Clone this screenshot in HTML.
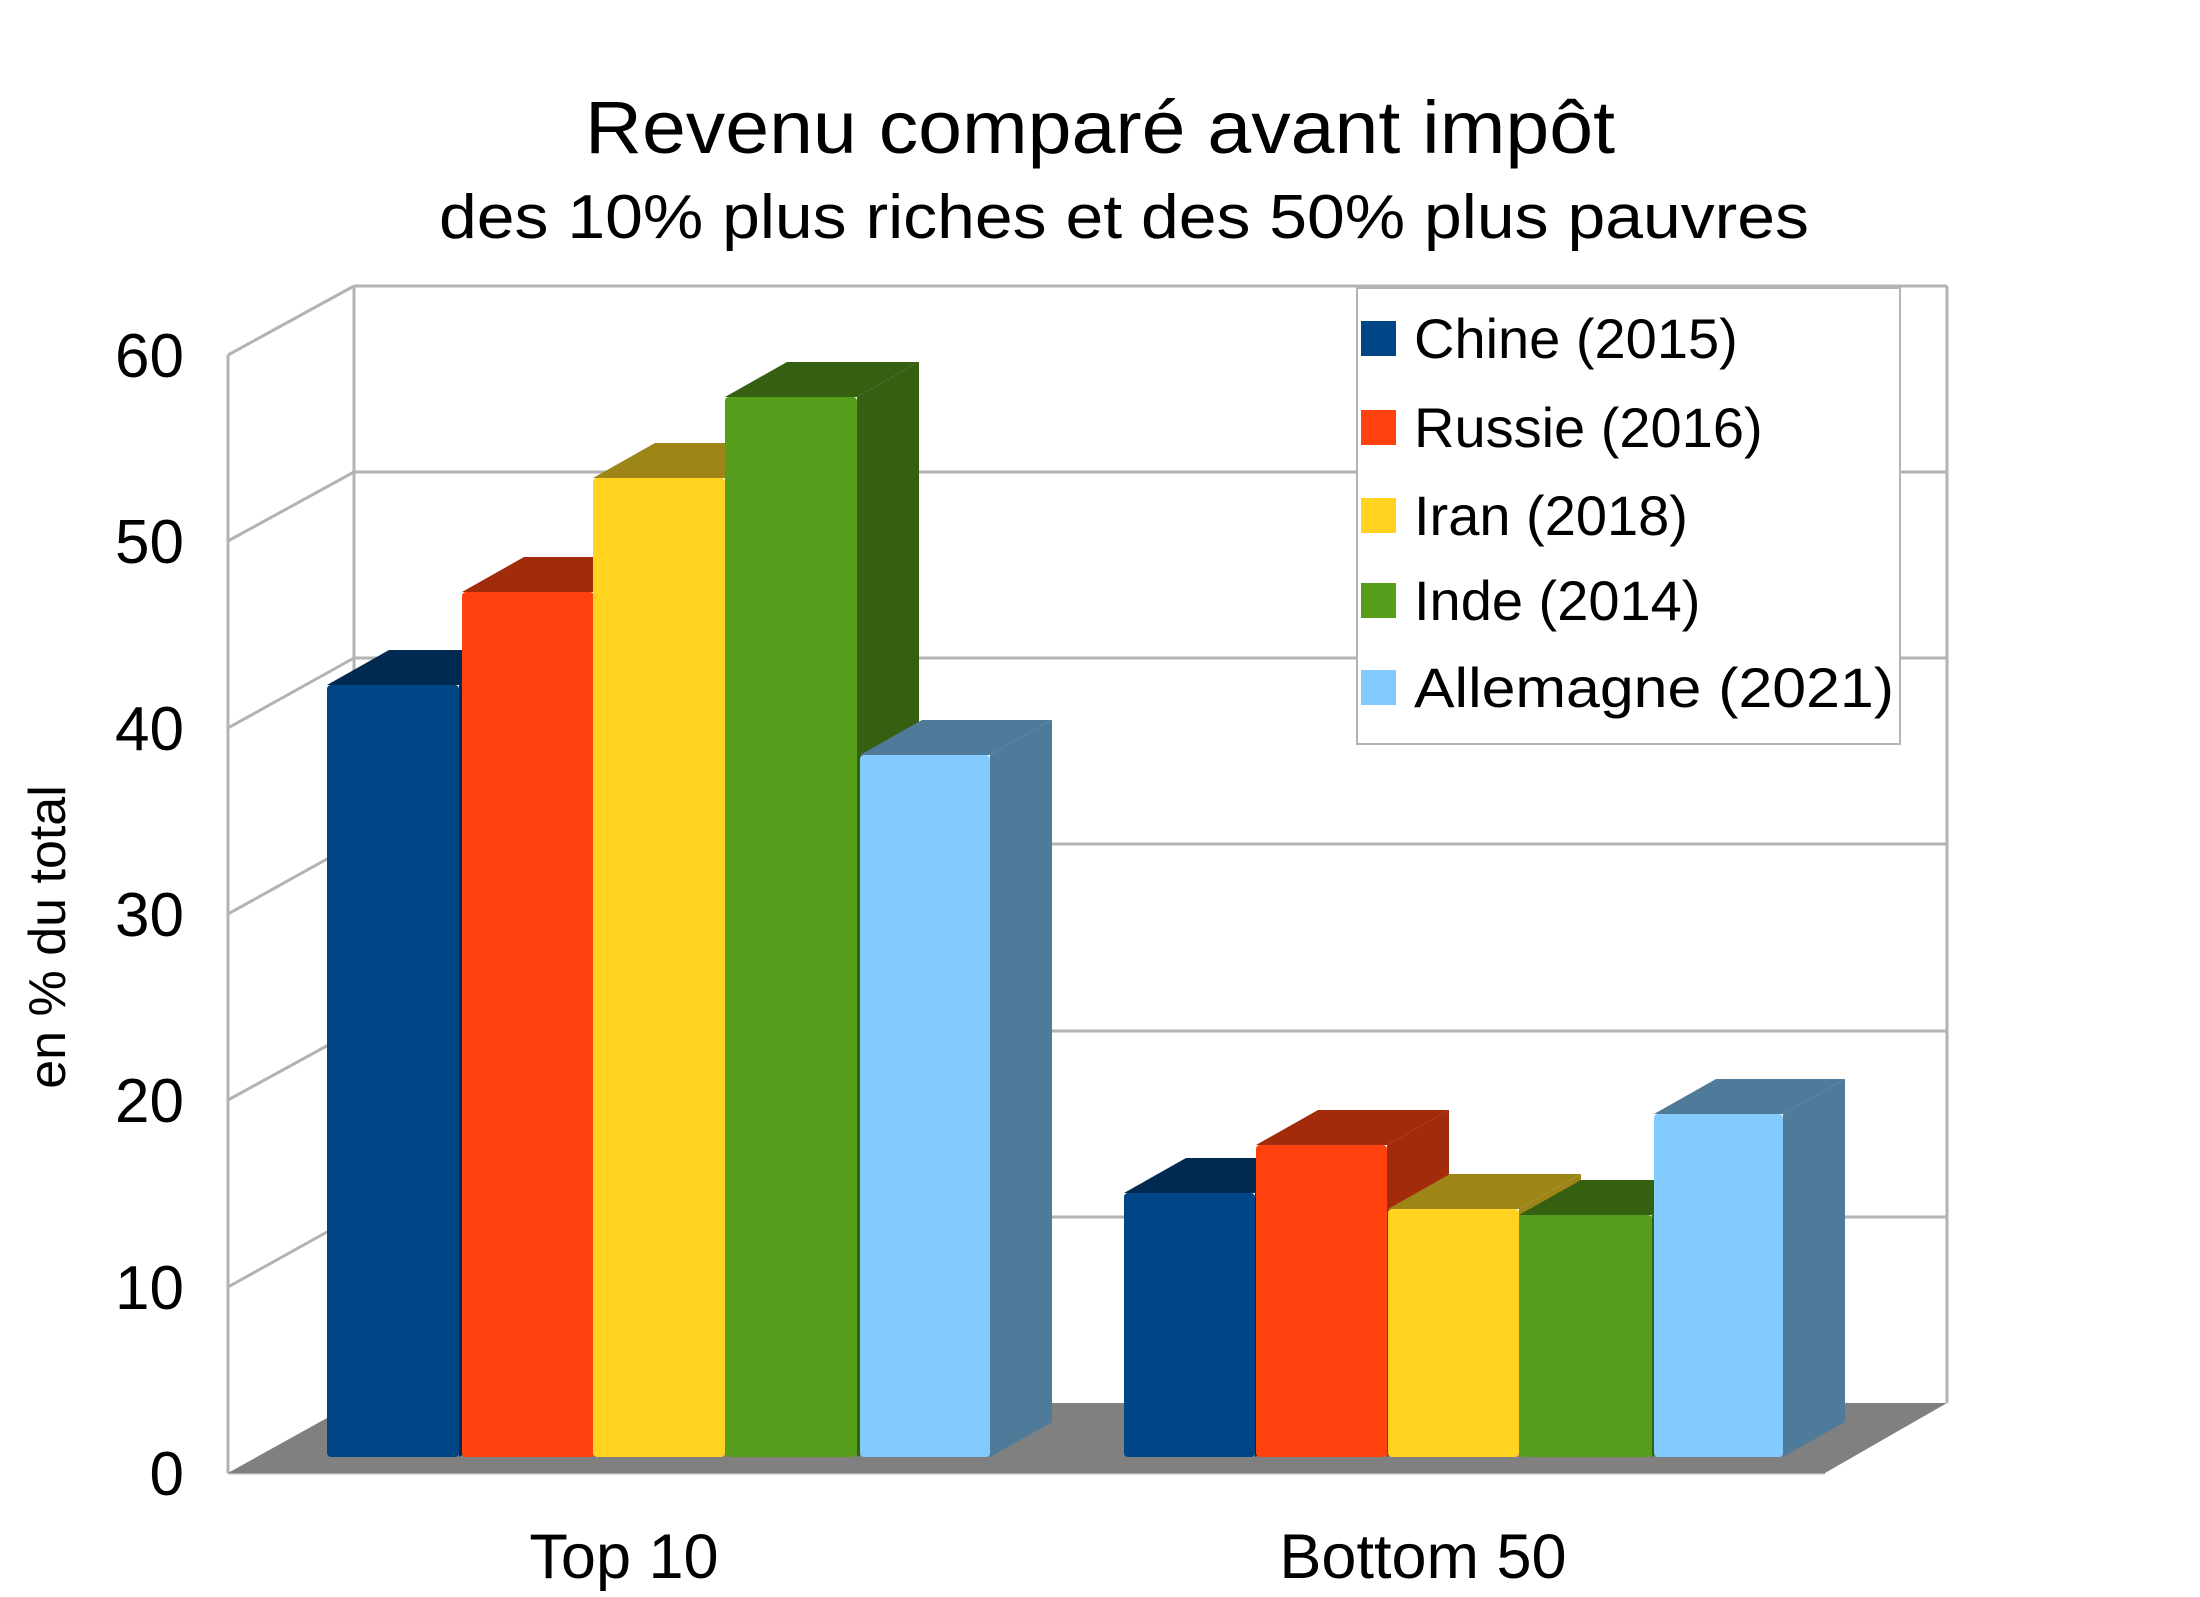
<!DOCTYPE html>
<html><head><meta charset="utf-8"><style>html,body{margin:0;padding:0;background:#fff}svg{display:block}</style></head>
<body>
<svg width="2200" height="1597" viewBox="0 0 2200 1597" xmlns="http://www.w3.org/2000/svg" font-family="Liberation Sans, sans-serif">
<rect width="2200" height="1597" fill="#fff"/>
<text x="1100" y="153" font-size="74" text-anchor="middle" textLength="1030" lengthAdjust="spacingAndGlyphs">Revenu comparé avant impôt</text>
<text x="1124" y="238" font-size="62" text-anchor="middle" textLength="1370" lengthAdjust="spacingAndGlyphs">des 10% plus riches et des 50% plus pauvres</text>
<g stroke="#b3b3b3" stroke-width="3" fill="none">
<line x1="354" y1="286" x2="1947" y2="286"/>
<line x1="354" y1="472" x2="1947" y2="472"/>
<line x1="354" y1="658" x2="1947" y2="658"/>
<line x1="354" y1="844" x2="1947" y2="844"/>
<line x1="354" y1="1031" x2="1947" y2="1031"/>
<line x1="354" y1="1217" x2="1947" y2="1217"/>
<line x1="354" y1="286" x2="354" y2="1403"/>
<line x1="1947" y1="286" x2="1947" y2="1403"/>
<line x1="228" y1="355" x2="228" y2="1473"/>
<line x1="228" y1="355" x2="354" y2="286"/>
<line x1="228" y1="541" x2="354" y2="472"/>
<line x1="228" y1="728" x2="354" y2="658"/>
<line x1="228" y1="914" x2="354" y2="844"/>
<line x1="228" y1="1100" x2="354" y2="1031"/>
<line x1="228" y1="1287" x2="354" y2="1217"/>
<line x1="228" y1="1473" x2="1825" y2="1473"/>
</g>
<polygon points="228,1473 1825,1473 1947,1403 354,1403" fill="#808080"/>
<g font-size="62" text-anchor="end">
<text x="184" y="377">60</text><text x="184" y="563">50</text><text x="184" y="750">40</text>
<text x="184" y="936">30</text><text x="184" y="1122">20</text><text x="184" y="1309">10</text><text x="184" y="1495">0</text>
</g>
<text transform="translate(65,937) rotate(-90)" font-size="52" text-anchor="middle">en % du total</text>
<g font-size="63" text-anchor="middle">
<text x="624" y="1578">Top 10</text><text x="1423" y="1578">Bottom 50</text>
</g>
<g>
<polygon points="459,685 521,650 521,1422 459,1457" fill="#002a52"/><polygon points="327,685 389,650 521,650 459,685" fill="#002a52"/><rect x="327" y="685" width="132" height="772" rx="4" fill="#004586"/>
<polygon points="594,592 656,557 656,1422 594,1457" fill="#a12b0a"/><polygon points="462,592 524,557 656,557 594,592" fill="#a12b0a"/><rect x="462" y="592" width="132" height="865" rx="4" fill="#ff420e"/>
<polygon points="725,478 787,443 787,1422 725,1457" fill="#9e8517"/><polygon points="593,478 655,443 787,443 725,478" fill="#9e8517"/><rect x="593" y="478" width="132" height="979" rx="4" fill="#ffd320"/>
<polygon points="857,397 919,362 919,1422 857,1457" fill="#355f11"/><polygon points="725,397 787,362 919,362 857,397" fill="#355f11"/><rect x="725" y="397" width="132" height="1060" rx="4" fill="#579d1c"/>
<polygon points="990,755 1052,720 1052,1422 990,1457" fill="#4f7a9a"/><polygon points="860,755 922,720 1052,720 990,755" fill="#4f7a9a"/><rect x="860" y="755" width="130" height="702" rx="4" fill="#83caff"/>
<polygon points="1255,1193 1317,1158 1317,1422 1255,1457" fill="#002a52"/><polygon points="1124,1193 1186,1158 1317,1158 1255,1193" fill="#002a52"/><rect x="1124" y="1193" width="131" height="264" rx="4" fill="#004586"/>
<polygon points="1387,1145 1449,1110 1449,1422 1387,1457" fill="#a12b0a"/><polygon points="1256,1145 1318,1110 1449,1110 1387,1145" fill="#a12b0a"/><rect x="1256" y="1145" width="131" height="312" rx="4" fill="#ff420e"/>
<polygon points="1519,1209 1581,1174 1581,1422 1519,1457" fill="#9e8517"/><polygon points="1388,1209 1450,1174 1581,1174 1519,1209" fill="#9e8517"/><rect x="1388" y="1209" width="131" height="248" rx="4" fill="#ffd320"/>
<polygon points="1652,1215 1714,1180 1714,1422 1652,1457" fill="#355f11"/><polygon points="1519,1215 1581,1180 1714,1180 1652,1215" fill="#355f11"/><rect x="1519" y="1215" width="133" height="242" rx="4" fill="#579d1c"/>
<polygon points="1783,1114 1845,1079 1845,1422 1783,1457" fill="#4f7a9a"/><polygon points="1654,1114 1716,1079 1845,1079 1783,1114" fill="#4f7a9a"/><rect x="1654" y="1114" width="129" height="343" rx="4" fill="#83caff"/>
</g>
<rect x="1357" y="288" width="543" height="456" fill="#fff" stroke="#b3b3b3" stroke-width="2"/>
<g font-size="56">
<rect x="1361" y="321" width="35" height="35" fill="#004586"/><text x="1414" y="358">Chine (2015)</text>
<rect x="1361" y="410" width="35" height="35" fill="#ff420e"/><text x="1414" y="447">Russie (2016)</text>
<rect x="1361" y="498" width="35" height="35" fill="#ffd320"/><text x="1414" y="535">Iran (2018)</text>
<rect x="1361" y="583" width="35" height="35" fill="#579d1c"/><text x="1414" y="620">Inde (2014)</text>
<rect x="1361" y="670" width="35" height="35" fill="#83caff"/><text x="1414" y="707" textLength="480" lengthAdjust="spacingAndGlyphs">Allemagne (2021)</text>
</g>
</svg>
</body></html>
